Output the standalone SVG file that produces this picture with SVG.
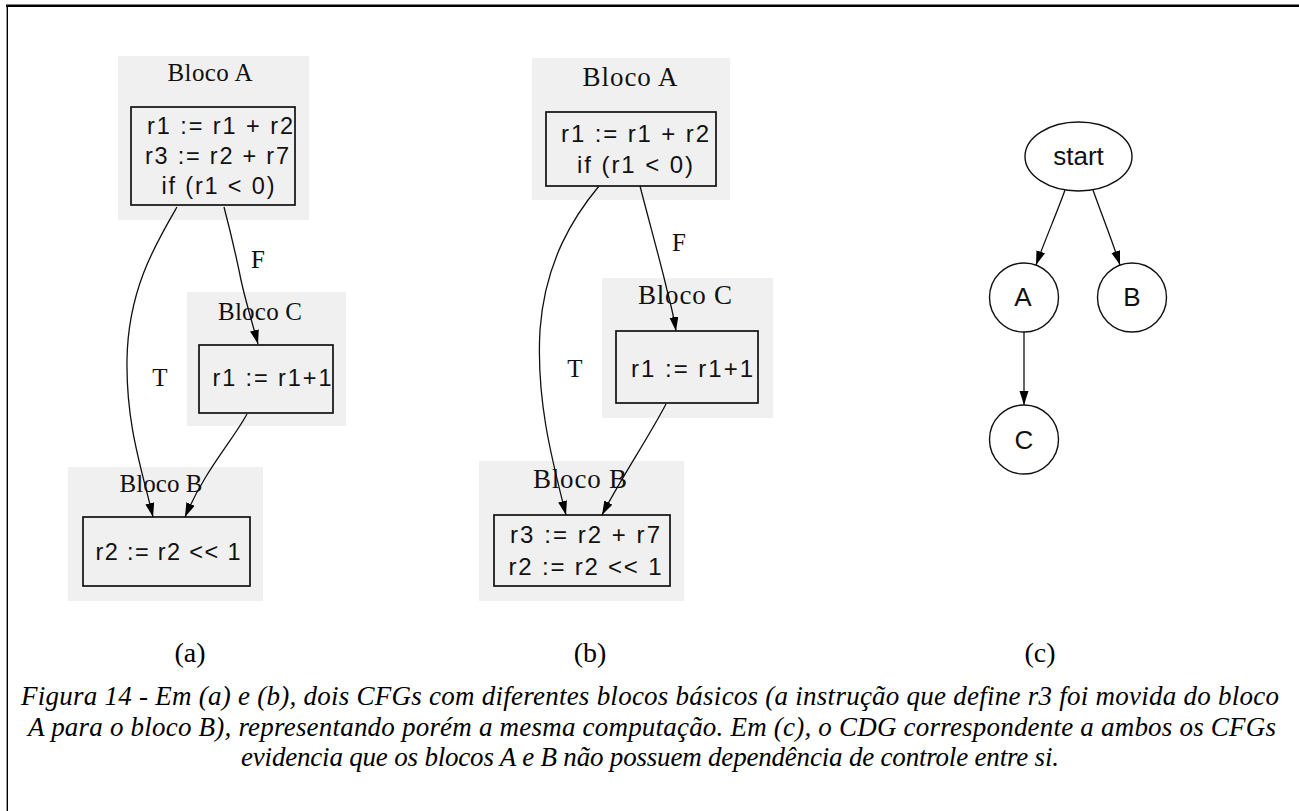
<svg xmlns="http://www.w3.org/2000/svg" width="1299" height="811" viewBox="0 0 1299 811">
  <defs>
    <marker id="arrow" markerUnits="userSpaceOnUse" markerWidth="15" markerHeight="10" refX="14" refY="4.5" orient="auto">
      <path d="M0,0 L14,4.5 L0,9 z" fill="#000"/>
    </marker>
  </defs>
  <style>
    .frame { stroke: #000; fill: none; }
    .cluster { fill: #f0f0f0; stroke: none; }
    .box { fill: none; stroke: #111; stroke-width: 1.7; }
    .ring { fill: none; stroke: #111; stroke-width: 1.4; }
    .title { font-family: "Liberation Serif", serif; fill: #111; text-anchor: middle; }
    .code { font-family: "Liberation Sans", Arial, sans-serif; fill: #111; text-anchor: middle; }
    .edge { fill: none; stroke: #111; stroke-width: 1.3; marker-end: url(#arrow); }
    .elabel { font-family: "Liberation Serif", serif; font-size: 25px; fill: #111; text-anchor: middle; }
    .tag { font-family: "Liberation Serif", serif; font-size: 28px; fill: #000; text-anchor: middle; }
    .caption { font-family: "Liberation Serif", serif; font-style: italic; font-size: 27px; fill: #000; text-anchor: middle; }
  </style>

  <rect width="1299" height="811" fill="#fff"/>

  <!-- page frame: heavy top rule, thin left rule -->
  <line class="frame" x1="6" y1="5.8" x2="1299" y2="5.8" stroke-width="2.4"/>
  <line class="frame" x1="7.3" y1="5" x2="7.3" y2="811" stroke-width="1.4"/>

  <!-- ===== (a) CFG ===== -->
  <g id="a-bloco-a">
    <rect class="cluster" x="118" y="56" width="191" height="164"/>
    <text class="title" x="210" y="81" font-size="25" textLength="85" lengthAdjust="spacing">Bloco A</text>
    <rect class="box" x="131" y="107" width="164" height="98"/>
    <text class="code" x="220" y="134" font-size="23.5" textLength="146" lengthAdjust="spacing">r1 := r1 + r2</text>
    <text class="code" x="217" y="164" font-size="23.5" textLength="144" lengthAdjust="spacing">r3 := r2 + r7</text>
    <text class="code" x="218" y="194" font-size="23.5" textLength="113" lengthAdjust="spacing">if (r1 &lt; 0)</text>
  </g>
  <g id="a-bloco-c">
    <rect class="cluster" x="187" y="292" width="159" height="134"/>
    <text class="title" x="260" y="320" font-size="25" textLength="84" lengthAdjust="spacing">Bloco C</text>
    <rect class="box" x="199" y="345" width="134" height="68"/>
    <text class="code" x="272" y="386" font-size="23.5" textLength="119" lengthAdjust="spacing">r1 := r1+1</text>
  </g>
  <g id="a-bloco-b">
    <rect class="cluster" x="68" y="467" width="195" height="134"/>
    <text class="title" x="161" y="492" font-size="25" textLength="83" lengthAdjust="spacing">Bloco B</text>
    <rect class="box" x="83" y="517" width="167" height="69"/>
    <text class="code" x="168" y="560" font-size="23.5" textLength="145" lengthAdjust="spacing">r2 := r2 &lt;&lt; 1</text>
  </g>

  <!-- ===== (b) CFG ===== -->
  <g id="b-bloco-a">
    <rect class="cluster" x="532" y="58" width="198" height="142"/>
    <text class="title" x="630" y="86" font-size="27" textLength="95" lengthAdjust="spacing">Bloco A</text>
    <rect class="box" x="546" y="112" width="170" height="74"/>
    <text class="code" x="635" y="142" font-size="24" textLength="148" lengthAdjust="spacing">r1 := r1 + r2</text>
    <text class="code" x="635" y="173" font-size="24" textLength="116" lengthAdjust="spacing">if (r1 &lt; 0)</text>
  </g>
  <g id="b-bloco-c">
    <rect class="cluster" x="602" y="278" width="171" height="140"/>
    <text class="title" x="685" y="304" font-size="27" textLength="94" lengthAdjust="spacing">Bloco C</text>
    <rect class="box" x="616" y="331" width="142" height="72"/>
    <text class="code" x="692" y="377" font-size="24" textLength="122" lengthAdjust="spacing">r1 := r1+1</text>
  </g>
  <g id="b-bloco-b">
    <rect class="cluster" x="479" y="461" width="205" height="140"/>
    <text class="title" x="580" y="488" font-size="27" textLength="94" lengthAdjust="spacing">Bloco B</text>
    <rect class="box" x="494" y="515" width="176" height="71"/>
    <text class="code" x="585" y="543" font-size="24" textLength="150" lengthAdjust="spacing">r3 := r2 + r7</text>
    <text class="code" x="585" y="575" font-size="24" textLength="153" lengthAdjust="spacing">r2 := r2 &lt;&lt; 1</text>
  </g>

  <!-- ===== (c) CDG ===== -->
  <g id="c-start">
    <ellipse class="ring" cx="1078.5" cy="156.5" rx="53.5" ry="34.5"/>
    <text class="code" x="1078.5" y="165" font-size="26">start</text>
  </g>
  <g id="c-a">
    <circle class="ring" cx="1024" cy="297.5" r="34.5"/>
    <text class="code" x="1023" y="306" font-size="26">A</text>
  </g>
  <g id="c-b">
    <circle class="ring" cx="1132" cy="297.5" r="34.5"/>
    <text class="code" x="1132" y="306" font-size="26">B</text>
  </g>
  <g id="c-c">
    <circle class="ring" cx="1024" cy="439.5" r="34.5"/>
    <text class="code" x="1024" y="449" font-size="26">C</text>
  </g>

  <!-- connectors -->
  <g id="connectors">
    <!-- (a) -->
    <path class="edge" d="M177,207 C155,245 128,290 127,360 C126,425 142,470 153,517"/>
    <path class="edge" d="M224,207 C230,230 236,255 241,280 C246,303 253,325 258,344"/>
    <path class="edge" d="M247,414 C233,440 205,470 185,517"/>
    <text class="elabel" x="258" y="268">F</text>
    <text class="elabel" x="160" y="386">T</text>
    <!-- (b) -->
    <path class="edge" d="M599,186 C575,215 545,260 540,330 C536,400 552,460 566,515"/>
    <path class="edge" d="M640,186 C650,225 660,260 667,290 C671,305 674,318 676,331"/>
    <path class="edge" d="M666,404 C650,435 620,480 602,515"/>
    <text class="elabel" x="679" y="251">F</text>
    <text class="elabel" x="575" y="377">T</text>
    <!-- (c) -->
    <path class="edge" d="M1065,190 C1058,210 1045,240 1036,265"/>
    <path class="edge" d="M1093,190 C1100,210 1112,240 1120,265"/>
    <path class="edge" d="M1024,332 L1024,405"/>
  </g>

  <!-- sub-figure tags and caption -->
  <text class="tag" x="190" y="662">(a)</text>
  <text class="tag" x="590" y="662">(b)</text>
  <text class="tag" x="1040" y="662">(c)</text>
  <text class="caption" x="650" y="705" textLength="1258" lengthAdjust="spacing">Figura 14 - Em (a) e (b), dois CFGs com diferentes blocos básicos (a instrução que define r3 foi movida do bloco</text>
  <text class="caption" x="652" y="736" textLength="1248" lengthAdjust="spacing">A para o bloco B), representando porém a mesma computação. Em (c), o CDG correspondente a ambos os CFGs</text>
  <text class="caption" x="650" y="766" textLength="818" lengthAdjust="spacing">evidencia que os blocos A e B não possuem dependência de controle entre si.</text>
</svg>
